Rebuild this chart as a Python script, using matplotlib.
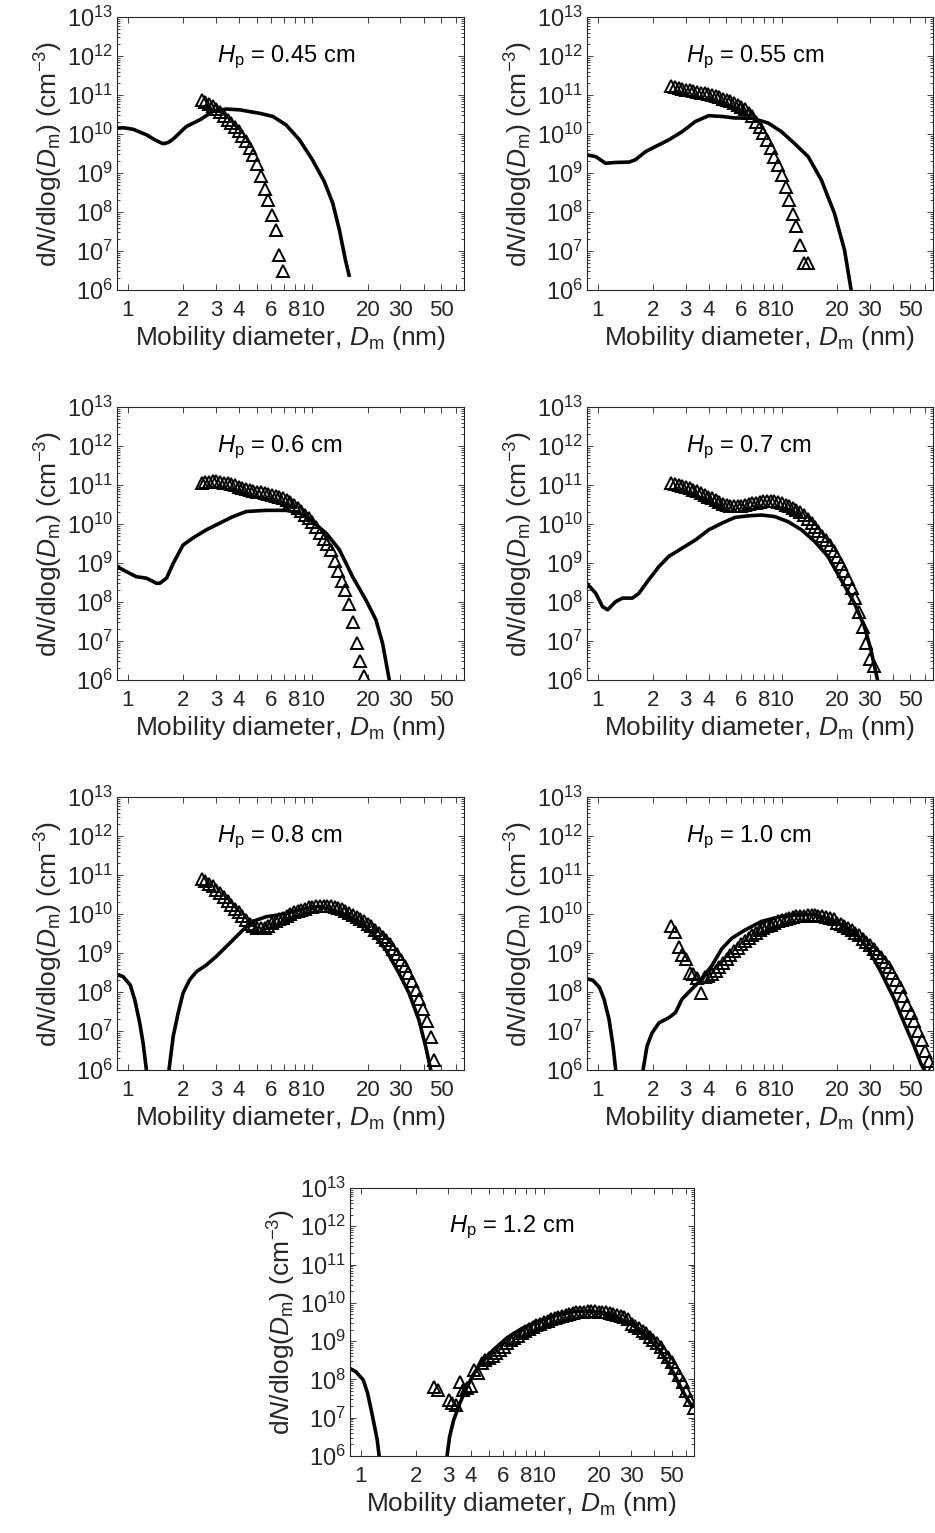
import numpy as np
import matplotlib
matplotlib.use("Agg")
import matplotlib.pyplot as plt
from matplotlib.ticker import FixedLocator, FixedFormatter, LogLocator, NullFormatter

plt.rcParams['font.family'] = ['Liberation Sans', 'DejaVu Sans']
plt.rcParams['mathtext.fontset'] = 'custom'
plt.rcParams['mathtext.rm'] = 'Liberation Sans'
plt.rcParams['mathtext.it'] = 'Liberation Sans:italic'
plt.rcParams['mathtext.bf'] = 'Liberation Sans:bold'

# measurement channel diameters (nm), shared by all panels
chan_d = [2.51, 2.63, 2.75, 2.88, 3.02, 3.16, 3.31, 3.47, 3.63, 3.80,
          3.98, 4.17, 4.37, 4.57, 4.79, 5.01, 5.25, 5.50, 5.75, 6.03,
          6.31, 6.61, 6.92, 7.24, 7.59, 7.94, 8.32, 8.71, 9.12, 9.55,
          10.0, 10.5, 11.0, 11.5, 12.0, 12.6, 13.2, 13.8, 14.5, 15.1,
          15.8, 16.6, 17.4, 18.2, 19.1, 20.0, 20.9, 21.9, 22.9, 24.0,
          25.1, 26.3, 27.5, 28.8, 30.2, 31.6, 33.1, 34.7, 36.3, 38.0,
          39.8, 41.7, 43.7, 45.7, 47.9, 50.1, 52.5, 55.0, 57.5, 60.3,
          63.1, 66.1]

# measured log10(dN/dlogDm), one value per channel (triangles)
meas_045 = [10.88, 10.83, 10.78, 10.72, 10.65, 10.56, 10.47, 10.37, 10.27, 10.17,
            10.08, 9.95, 9.82, 9.65, 9.45, 9.22, 8.93, 8.60, 8.30, 7.92,
            7.55, 6.90, 6.50]
meas_055 = [11.22, 11.20, 11.18, 11.16, 11.14, 11.12, 11.10, 11.08, 11.06, 11.04,
            11.02, 11.00, 10.97, 10.94, 10.91, 10.88, 10.84, 10.80, 10.75, 10.70,
            10.63, 10.55, 10.45, 10.32, 10.18, 10.03, 9.85, 9.63, 9.42, 9.20,
            8.95, 8.65, 8.30, 7.95, 7.65, 7.15, 6.70, 6.70]
meas_06 = [11.05, 11.07, 11.08, 11.09, 11.09, 11.08, 11.06, 11.04, 11.02, 10.99,
           10.96, 10.93, 10.90, 10.87, 10.85, 10.83, 10.81, 10.79, 10.77, 10.75,
           10.72, 10.69, 10.66, 10.62, 10.57, 10.50, 10.42, 10.33, 10.24, 10.15,
           10.06, 9.93, 9.78, 9.62, 9.50, 9.33, 9.05, 8.80, 8.55, 8.30,
           7.95, 7.50, 6.95, 6.50, 6.10]
meas_07 = [11.05, 11.03, 11.00, 10.98, 10.95, 10.92, 10.88, 10.84, 10.80, 10.75,
           10.70, 10.66, 10.61, 10.57, 10.52, 10.49, 10.46, 10.45, 10.46, 10.47,
           10.49, 10.51, 10.53, 10.55, 10.57, 10.58, 10.59, 10.59, 10.58, 10.56,
           10.53, 10.50, 10.46, 10.42, 10.37, 10.30, 10.22, 10.13, 10.03, 9.93,
           9.82, 9.70, 9.58, 9.45, 9.30, 9.15, 8.98, 8.80, 8.60, 8.35,
           8.10, 7.75, 7.35, 6.95, 6.55, 6.35]
meas_08 = [10.90, 10.84, 10.78, 10.71, 10.62, 10.53, 10.44, 10.34, 10.24, 10.14,
           10.04, 9.94, 9.84, 9.75, 9.68, 9.64, 9.63, 9.64, 9.70, 9.76,
           9.81, 9.86, 9.91, 9.96, 10.00, 10.04, 10.08, 10.11, 10.14, 10.17,
           10.19, 10.20, 10.21, 10.21, 10.21, 10.20, 10.18, 10.16, 10.13, 10.08,
           10.03, 9.98, 9.93, 9.87, 9.81, 9.75, 9.68, 9.60, 9.52, 9.42,
           9.33, 9.22, 9.10, 8.97, 8.82, 8.66, 8.48, 8.28, 8.06, 7.82,
           7.56, 7.25, 6.85, 6.25]
meas_10 = [9.70, 9.55, 9.15, 8.95, 8.85, 8.50, 8.45, 8.35, 7.98, 8.38,
           8.40, 8.45, 8.55, 8.65, 8.75, 8.85, 8.95, 9.05, 9.14, 9.22,
           9.30, 9.38, 9.45, 9.52, 9.58, 9.64, 9.69, 9.73, 9.77, 9.81,
           9.84, 9.87, 9.90, 9.92, 9.94, 9.95, 9.96, 9.97, 9.97, 9.97,
           9.96, 9.95, 9.93, 9.91, 9.88, 9.78, 9.74, 9.69, 9.64, 9.58,
           9.52, 9.45, 9.37, 9.29, 9.20, 9.10, 9.00, 8.90, 8.78, 8.65,
           8.50, 8.32, 8.12, 7.90, 7.66, 7.45, 7.25, 7.00, 6.78, 6.50,
           6.22, 6.05]
meas_12 = [7.80, 7.72, np.nan, np.nan, 7.46, 7.38, 7.33, 7.94, 7.73, 7.78,
           7.82, 8.25, 8.16, 8.42, 8.50, 8.55, 8.62, 8.70, 8.77, 8.86,
           8.94, 9.02, 9.08, 9.14, 9.20, 9.26, 9.31, 9.36, 9.41, 9.45,
           9.49, 9.53, 9.57, 9.60, 9.63, 9.66, 9.69, 9.71, 9.73, 9.75,
           9.76, 9.77, 9.78, 9.78, 9.78, 9.77, 9.76, 9.75, 9.73, 9.71,
           9.68, 9.65, 9.62, 9.58, 9.45, 9.40, 9.34, 9.27, 9.20, 9.12,
           9.03, 8.94, 8.84, 8.72, 8.59, 8.45, 8.30, 8.12, 7.93, 7.70,
           7.45, 7.25]

# simulated curves: diameters (nm) and log10(dN/dlogDm)
sim_d_045 = [0.87, 0.95, 1.07, 1.26, 1.40, 1.55, 1.65, 1.76, 2.07, 2.45, 2.89, 3.41,
             4.03, 5.18, 6.11, 7.21, 8.51, 10.0, 11.6, 12.9, 14.0, 15.1, 15.8]
sim_n_045 = [10.15, 10.16, 10.12, 9.98, 9.85, 9.75, 9.78, 9.87, 10.19, 10.36, 10.58, 10.64,
             10.62, 10.53, 10.45, 10.23, 9.85, 9.34, 8.78, 8.22, 7.54, 6.77, 6.38]
sim_d_055 = [0.88, 0.975, 1.10, 1.25, 1.48, 1.60, 1.82, 2.06, 2.43, 2.87, 3.39, 4.0,
             4.72, 5.57, 6.86, 8.43, 9.95, 11.7, 13.9, 16.4, 19.3, 21.9, 23.8, 25.0]
sim_n_055 = [9.46, 9.42, 9.25, 9.27, 9.28, 9.34, 9.55, 9.68, 9.85, 10.06, 10.32, 10.47,
             10.45, 10.41, 10.41, 10.28, 10.06, 9.76, 9.42, 8.82, 7.97, 7.03, 6.0, 5.0]
sim_d_06 = [0.87, 0.98, 1.11, 1.26, 1.43, 1.49, 1.62, 1.76, 1.99, 2.25, 2.66, 3.14,
            3.71, 4.38, 5.62, 7.21, 8.51, 10.0, 11.9, 14.0, 16.5, 19.5, 22.1, 24.0,
            26.1, 27.5]
sim_n_06 = [8.91, 8.78, 8.65, 8.61, 8.48, 8.48, 8.61, 8.99, 9.46, 9.64, 9.85, 10.02,
            10.19, 10.32, 10.35, 10.35, 10.28, 10.06, 9.76, 9.34, 8.65, 8.05, 7.54, 6.94,
            6.0, 5.0]
sim_d_07 = [0.87, 0.975, 1.06, 1.13, 1.25, 1.36, 1.54, 1.67, 1.89, 2.15, 2.43, 2.87,
            3.39, 4.0, 4.72, 5.57, 6.58, 7.76, 9.16, 10.8, 12.8, 15.1, 17.8, 21.0,
            24.8, 28.1, 30.5, 33.1, 34.5]
sim_n_07 = [8.48, 8.22, 7.88, 7.80, 8.01, 8.10, 8.10, 8.22, 8.57, 8.91, 9.17, 9.38,
            9.59, 9.85, 10.02, 10.17, 10.21, 10.23, 10.19, 10.06, 9.85, 9.55, 9.17, 8.57,
            7.97, 7.37, 6.77, 6.0, 5.0]
sim_d_08 = [0.87, 0.94, 1.03, 1.09, 1.16, 1.21, 1.26, 1.29, 1.45, 1.63, 1.67, 1.76,
            1.87, 1.99, 2.16, 2.35, 2.66, 3.01, 3.56, 4.20, 4.75, 5.62, 6.63, 7.83,
            9.25, 10.9, 12.9, 15.2, 17.9, 21.2, 25.0, 29.5, 33.4, 37.8, 41.1, 43.8, 45.5]
sim_n_08 = [8.44, 8.40, 8.18, 7.80, 7.20, 6.68, 6.0, 5.2, 3.5, 5.3, 6.0, 6.86,
            7.45, 7.97, 8.31, 8.52, 8.69, 8.91, 9.25, 9.59, 9.81, 9.93, 9.98, 10.06,
            10.15, 10.19, 10.10, 9.98, 9.81, 9.51, 9.08, 8.48, 7.97, 7.28, 6.60, 6.0, 5.0]
sim_d_10 = [0.87, 0.94, 1.02, 1.08, 1.15, 1.21, 1.25, 1.30, 1.55, 1.70, 1.76, 1.85,
            1.97, 2.15, 2.43, 2.64, 2.87, 3.25, 3.68, 4.17, 4.72, 5.35, 6.31, 7.76,
            9.95, 12.8, 15.1, 19.3, 24.8, 29.3, 34.6, 40.8, 46.2, 52.4, 56.9, 59.3, 61.0]
sim_n_10 = [8.34, 8.30, 8.12, 7.82, 7.30, 6.61, 6.0, 5.0, 3.0, 5.0, 6.0, 6.61,
            6.95, 7.21, 7.34, 7.47, 7.82, 8.08, 8.34, 8.68, 9.11, 9.38, 9.59, 9.81,
            9.94, 9.99, 9.99, 9.81, 9.55, 9.12, 8.51, 7.82, 7.21, 6.61, 6.17, 6.0, 5.5]
sim_d_12 = [0.87, 0.94, 1.03, 1.09, 1.16, 1.23, 1.26, 1.32, 2.0, 2.85, 2.96, 3.06,
            3.22, 3.48, 3.78, 4.11, 4.67, 5.30, 6.27, 7.41, 9.16, 11.8, 15.2, 18.7,
            23.1, 29.7, 36.7, 43.5, 51.4, 58.3, 64.8]
sim_n_12 = [8.29, 8.20, 7.99, 7.64, 7.03, 6.42, 6.0, 5.0, 2.5, 5.0, 6.0, 6.51,
            6.94, 7.38, 7.77, 8.12, 8.51, 8.77, 9.08, 9.30, 9.51, 9.69, 9.78, 9.78,
            9.69, 9.47, 9.12, 8.73, 8.16, 7.64, 7.29]

titles = ['0.45', '0.55', '0.6', '0.7', '0.8', '1.0', '1.2']
meas_all = [meas_045, meas_055, meas_06, meas_07, meas_08, meas_10, meas_12]
sim_d_all = [sim_d_045, sim_d_055, sim_d_06, sim_d_07, sim_d_08, sim_d_10, sim_d_12]
sim_n_all = [sim_n_045, sim_n_055, sim_n_06, sim_n_07, sim_n_08, sim_n_10, sim_n_12]

# axes boxes in pixels (left, top, width, height)
W, H = 935, 1533
boxes = [(117, 17, 347, 273), (587, 17, 346, 273),
         (117, 407, 347, 273), (587, 407, 346, 273),
         (117, 797, 347, 273), (587, 797, 346, 273),
         (350, 1188, 344, 268)]

xt = [1, 2, 3, 4, 5, 6, 7, 8, 9, 10, 20, 30, 40, 50, 60]
xt_lab = ['1', '2', '3', '4', '', '6', '', '8', '', '10', '20', '30', '', '50', '']
yt = [1e6, 1e7, 1e8, 1e9, 1e10, 1e11, 1e12, 1e13]
yt_lab = [r'$10^{%d}$' % k for k in range(6, 14)]

txt_col = '#262626'

fig = plt.figure(figsize=(W / 100, H / 100), dpi=100)

for i in range(7):
    l, t, w, h = boxes[i]
    ax = fig.add_axes([l / W, 1 - (t + h) / H, w / W, h / H])
    ax.set_xscale('log')
    ax.set_yscale('log')

    d = np.array(chan_d[:len(meas_all[i])])
    ax.plot(d, np.power(10.0, meas_all[i]), linestyle='none', marker='^',
            markersize=8.5, markerfacecolor='none', markeredgecolor='black',
            markeredgewidth=1.4)
    ax.plot(sim_d_all[i], np.power(10.0, sim_n_all[i]), color='black', linewidth=2.6)

    ax.set_xlim(0.873, 66.3)
    ax.set_ylim(1e6, 1e13)

    ax.xaxis.set_major_locator(FixedLocator(xt))
    ax.xaxis.set_major_formatter(FixedFormatter(xt_lab))
    ax.xaxis.set_minor_locator(FixedLocator([]))
    ax.yaxis.set_major_locator(FixedLocator(yt))
    ax.yaxis.set_major_formatter(FixedFormatter(yt_lab))
    ax.yaxis.set_minor_locator(LogLocator(base=10, subs=np.arange(2, 10), numticks=20))
    ax.yaxis.set_minor_formatter(NullFormatter())

    ax.tick_params(which='both', direction='in', top=True, right=True,
                   colors=txt_col, width=0.6)
    ax.tick_params(which='major', length=4)
    ax.tick_params(which='minor', length=2.2)
    ax.tick_params(axis='x', labelsize=16, pad=7)
    ax.tick_params(axis='y', labelsize=17, pad=3)
    for sp in ax.spines.values():
        sp.set_color(txt_col)
        sp.set_linewidth(0.8)

    ax.set_xlabel(r'Mobility diameter, $\it{D}_{\rm m}$ (nm)', fontsize=19,
                  color=txt_col, labelpad=2)
    ax.set_ylabel(r'd$\it{N}$/dlog($\it{D}_{\rm m}$) (cm$^{-3}$)', fontsize=19,
                  color=txt_col, labelpad=1)
    ax.text(0.287, 0.836, r'$\it{H}_{\rm p}$ = ' + titles[i] + ' cm',
            transform=ax.transAxes, fontsize=17, ha='left', va='baseline')

fig.savefig('out.png', dpi=100)
